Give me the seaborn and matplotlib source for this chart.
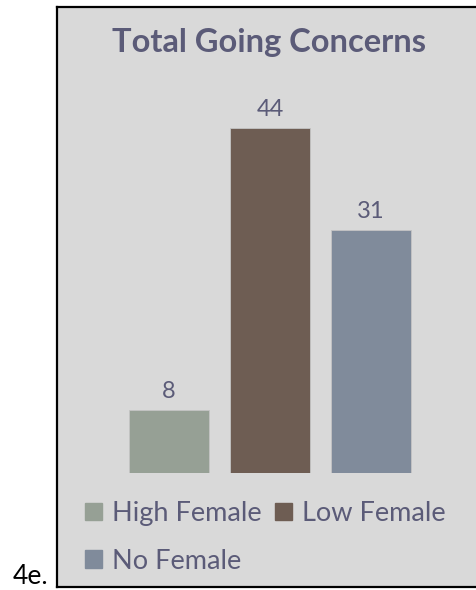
import matplotlib
matplotlib.use("Agg")
import matplotlib.pyplot as plt
import matplotlib.patches as mpatches
import seaborn as sns

categories = ["High Female", "Low Female", "No Female"]
values = [8, 44, 31]
colors = ["#96a095", "#6e5d53", "#808b9b"]
title = "Total Going Concerns"
panel_label = "4e."

text_color = "#5b5b78"
panel_bg = "#d9d9d9"

sns.set_theme(style="white")
plt.rcParams["font.family"] = ["Lato", "DejaVu Sans"]

W, H = 476, 590
fig = plt.figure(figsize=(W / 100, H / 100), dpi=100)
fig.patch.set_facecolor("white")

# gray panel with black frame (right edge runs off the image)
panel = fig.add_axes([57 / W, 3 / H, 430 / W, 580 / H])
panel.set_facecolor(panel_bg)
panel.set_xticks([])
panel.set_yticks([])
for s in panel.spines.values():
    s.set_color("black")
    s.set_linewidth(1.6)

# bar area
ax = fig.add_axes([118.5 / W, 117 / H, 303 / W, 392 / H])
ax.patch.set_alpha(0)
sns.barplot(x=categories, y=values, hue=categories, palette=colors,
            width=0.79, saturation=1, legend=False, ax=ax,
            edgecolor="#c4c4c4", linewidth=0.6)
ax.set_xlim(-0.5, 2.5)
ax.set_ylim(0, 50)
ax.set_xticks([])
ax.set_yticks([])
ax.set_xlabel("")
ax.set_ylabel("")
sns.despine(ax=ax, left=True, bottom=True)
for c in ax.containers:
    ax.bar_label(c, padding=6, fontsize=17, color=text_color)

fig.text(269 / W, 1 - 52 / H, title, ha="center", va="baseline",
         fontsize=23.5, fontweight="bold", color=text_color)

handles = [mpatches.Patch(color=col, label=cat) for cat, col in zip(categories, colors)]
order = [0, 2, 1]
fig.legend([handles[i] for i in order], [categories[i] for i in order],
           ncol=2, loc="upper left", bbox_to_anchor=(85 / W, 1 - 501 / H),
           frameon=False, fontsize=19.5, labelcolor=text_color,
           handlelength=0.63, handleheight=0.63, handletextpad=0.37,
           columnspacing=0.48, labelspacing=0.84, borderpad=0,
           borderaxespad=0)

fig.text(13 / W, 1 - 589 / H, panel_label, ha="left", va="bottom",
         fontsize=19, color="black")

fig.savefig("out.png", dpi=100)
